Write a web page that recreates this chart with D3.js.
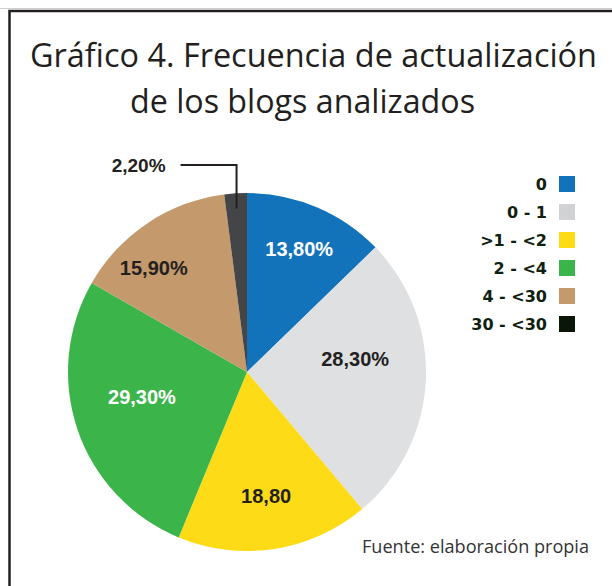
<!DOCTYPE html>
<html>
<head>
<meta charset="utf-8">
<style>
    body { margin: 0; background: #fff; }
    svg { display: block; }
</style>
</head>
<body>
    <div class="graph"></div>

    <script src="https://cdn.jsdelivr.net/npm/d3@7"></script>
    <script>
        // data (values don't add to 100, kept as printed)
        var categories = ['0', '0 - 1', '>1 - <2', '2 - <4', '4 - <30', '30 - <30']
        var values = [13.8, 28.3, 18.8, 29.3, 15.9, 2.2]
        var valueLabels = ['13,80%', '28,30%', '18,80', '29,30%', '15,90%', '2,20%']

        var sliceColors = ['#1273ba', '#dfe0e2', '#fddc17', '#3bb54a', '#c4996b', '#444547']
        var legendColors = ['#1273ba', '#d1d2d4', '#fddc17', '#3bb54a', '#c4996b', '#0a160a']
        var labelColors = ['#fff', '#231f20', '#231f20', '#fff', '#231f20', '#231f20']
        // hand placement of the labels inside the slices
        var labelRadius = [134, 109, 125, 108, 140]
        var labelNudge = [0, -10, 0, 5.5, -8]

        var width = 612,
            height = 586,
            cx = 247,
            cy = 372,
            radius = 179

        var condensed = '"Open Sans", "Noto Sans", sans-serif'

        var svg = d3.select('.graph').append('svg')
            .attr('width', width)
            .attr('height', height)

        // frame
        svg.append('line')
            .attr('x1', 0).attr('x2', width)
            .attr('y1', 8.5).attr('y2', 8.5)
            .style('stroke', '#d0d0d0').style('stroke-width', 1)
        svg.append('path')
            .attr('d', 'M9.5,' + height + 'V11H' + width)
            .style('fill', 'none')
            .style('stroke', '#231f20')
            .style('stroke-width', 2.5)

        // title (squeezed to get the narrow face of the original)
        var title = svg.append('g')
            .style('font-family', condensed)
            .style('font-size', '32px')
            .style('fill', '#231f20')
        title.append('text')
            .attr('x', 30).attr('y', 67)
            .attr('textLength', 567)
            .attr('lengthAdjust', 'spacingAndGlyphs')
            .text('Gráfico 4. Frecuencia de actualización')
        title.append('text')
            .attr('x', 130).attr('y', 113)
            .attr('textLength', 345)
            .attr('lengthAdjust', 'spacingAndGlyphs')
            .text('de los blogs analizados')

        var pie = d3.pie().sort(null).value(function (d) { return d })
        var arcs = pie(values)

        var arc = d3.arc().innerRadius(0).outerRadius(radius)

        var g = svg.append('g')
            .attr('transform', 'translate(' + cx + ',' + cy + ')')

        g.selectAll('path.slice')
            .data(arcs)
            .enter().append('path')
            .attr('class', 'slice')
            .attr('d', arc)
            .style('fill', function (d, i) { return sliceColors[i] })

        // labels inside the big slices
        g.selectAll('text.val')
            .data(arcs.slice(0, 5))
            .enter().append('text')
            .attr('class', 'val')
            .attr('transform', function (d, i) {
                var a = (d.startAngle + d.endAngle) / 2 + labelNudge[i] * Math.PI / 180
                var r = labelRadius[i]
                return 'translate(' + (Math.sin(a) * r) + ',' + (-Math.cos(a) * r) + ')'
            })
            .attr('text-anchor', 'middle')
            .attr('dy', '0.36em')
            .style('font-family', '"Liberation Sans", Arial, sans-serif')
            .style('font-weight', 'bold')
            .style('font-size', '20px')
            .style('fill', function (d, i) { return labelColors[i] })
            .text(function (d, i) { return valueLabels[i] })

        // small slice: label outside with an elbow leader
        var small = arcs[5]
        var midA = (small.startAngle + small.endAngle) / 2
        var px = Math.sin(midA) * radius * 0.915,
            py = -Math.cos(midA) * radius * 0.915,
            elbowY = -radius - 28,
            endX = px - 56

        g.append('path')
            .attr('d', 'M' + px + ',' + py + 'V' + elbowY + 'H' + endX)
            .style('fill', 'none')
            .style('stroke', '#231f20')
            .style('stroke-width', 2)

        g.append('text')
            .attr('x', endX - 15)
            .attr('y', elbowY)
            .attr('dy', '0.36em')
            .attr('text-anchor', 'end')
            .style('font-family', '"Liberation Sans", Arial, sans-serif')
            .style('font-weight', 'bold')
            .style('font-size', '19px')
            .style('fill', labelColors[5])
            .text(valueLabels[5])

        // legend
        var legendY = d3.scalePoint()
            .domain(categories)
            .range([184, 324])

        var legend = svg.append('g').attr('class', 'legend')
        var item = legend.selectAll('g')
            .data(categories)
            .enter().append('g')
            .attr('transform', function (d) { return 'translate(0,' + legendY(d) + ')' })

        item.append('rect')
            .attr('x', 559)
            .attr('y', -8)
            .attr('width', 16)
            .attr('height', 16)
            .style('fill', function (d, i) { return legendColors[i] })

        item.append('text')
            .attr('x', 547)
            .attr('dy', '0.36em')
            .attr('text-anchor', 'end')
            .style('font-family', '"DejaVu Sans", sans-serif')
            .style('font-weight', 'bold')
            .style('font-size', '16px')
            .style('fill', '#102010')
            .text(function (d) { return d })

        // source
        svg.append('text')
            .attr('x', 362)
            .attr('y', 553)
            .attr('textLength', 227)
            .attr('lengthAdjust', 'spacingAndGlyphs')
            .style('font-family', condensed)
            .style('font-size', '19px')
            .style('fill', '#333')
            .text('Fuente: elaboración propia')
    </script>
</body>
</html>
